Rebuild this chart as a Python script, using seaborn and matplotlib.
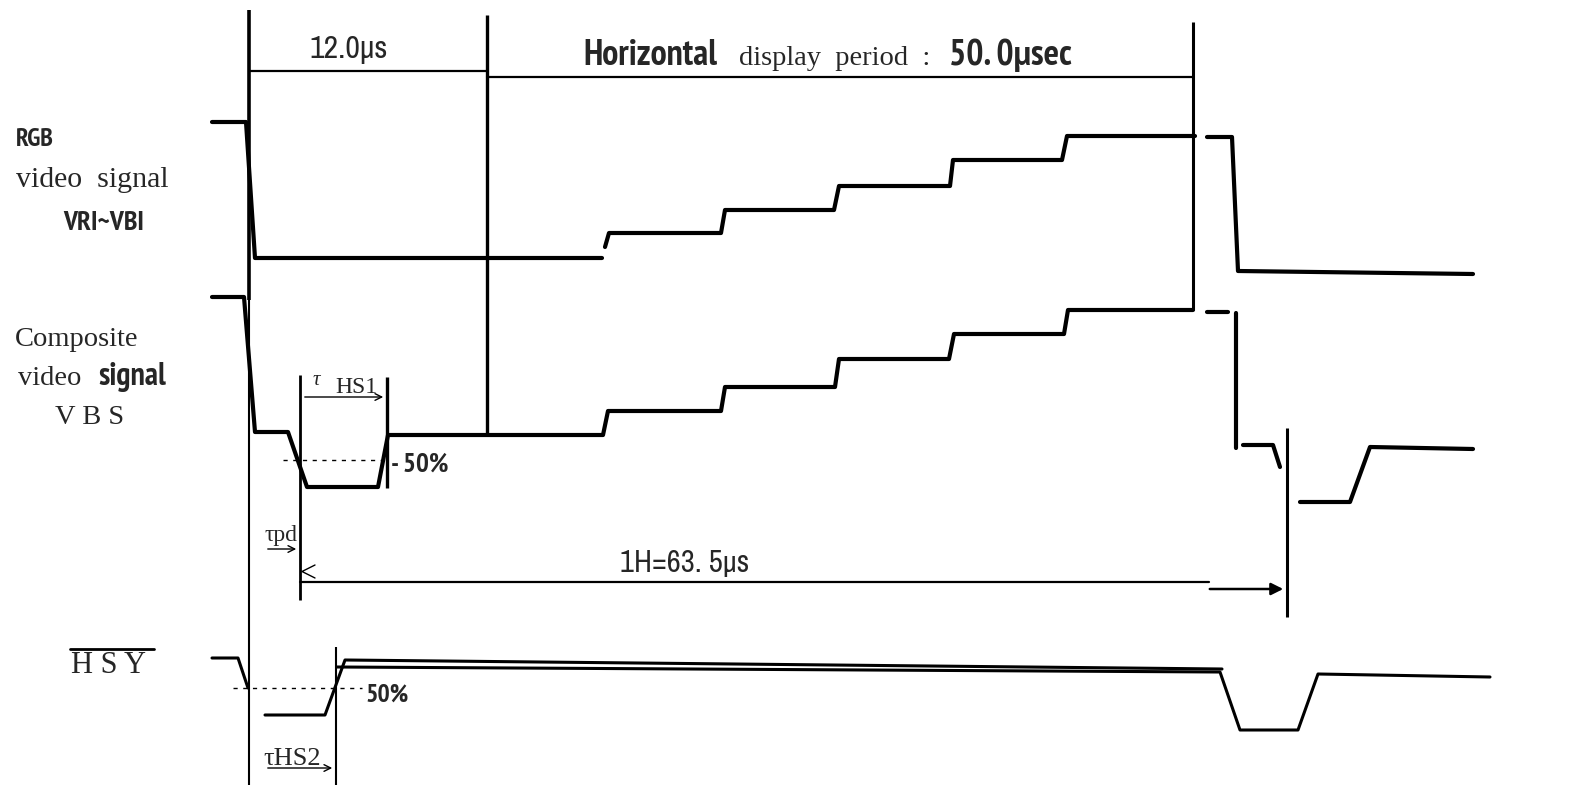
import os
import matplotlib
matplotlib.use('Agg')
import matplotlib.pyplot as plt
from matplotlib import font_manager
from matplotlib.font_manager import FontProperties
import seaborn as sns
import pandas as pd

# waveform vertices (x = time position, y = level, drawn downwards)
rgb_head_x = [212, 246, 255, 602]
rgb_head_y = [122, 122, 258, 258]
rgb_steps_x = [605, 609, 721, 725, 834, 839, 950, 953, 1062, 1067, 1195]
rgb_steps_y = [247, 233, 233, 210, 210, 186, 186, 160, 160, 136, 136]
rgb_tail_x = [1207, 1232, 1238, 1473]
rgb_tail_y = [137, 137, 271, 274]

vbs_head_x = [212, 244, 255, 288, 307, 378, 388, 603, 608, 721, 725, 835, 839, 949, 954, 1064, 1068, 1193]
vbs_head_y = [297, 297, 432, 432, 487, 487, 435, 435, 411, 411, 387, 387, 359, 359, 334, 334, 310, 310]
vbs_dash_x = [1207, 1228]
vbs_dash_y = [312, 312]
vbs_drop_x = [1236, 1236]
vbs_drop_y = [313, 448]
vbs_sync_x = [1243, 1273, 1280]
vbs_sync_y = [445, 445, 467]
vbs_tail_x = [1300, 1350, 1370, 1473]
vbs_tail_y = [502, 502, 447, 449]

hsy_head_x = [212, 238, 248]
hsy_head_y = [658, 658, 688]
hsy_low_x = [265, 325, 345, 1222]
hsy_low_y = [715, 715, 660, 669]
hsy_tail_x = [337, 1220, 1240, 1298, 1318, 1490]
hsy_tail_y = [667, 672, 730, 730, 674, 677]

# timing reference lines
guide_x = [249, 249, 487, 1193, 300, 387, 1287, 336]
guide_y0 = [10, 300, 15, 22, 375, 377, 428, 647]
guide_y1 = [300, 785, 435, 310, 600, 488, 617, 785]
guide_w = [2.6, 1.5, 2.4, 2.2, 2.0, 2.4, 2.2, 1.5]

dim_y = [71, 77, 582]
dim_x0 = [249, 487, 300]
dim_x1 = [487, 1193, 1209]

half_y = [460, 688]          # 50 % levels
half_x0 = [283, 233]
half_x1 = [385, 362]


def segs(pieces):
    rows = []
    for i, (xs, ys) in enumerate(pieces):
        for x, y in zip(xs, ys):
            rows.append({'seg': i, 'x': x, 'y': y})
    return pd.DataFrame(rows)


def pick_file(patterns):
    files = [f.fname for f in font_manager.fontManager.ttflist]
    for pat in patterns:
        for fn in files:
            base = os.path.basename(fn).lower().replace('-', '').replace('_', '')
            if all(p in base for p in pat) and 'mono' not in base and 'serif' not in base \
                    and 'italic' not in base and 'cjk' not in base:
                if 'bold' not in pat and 'bold' in base:
                    continue
                if 'extra' not in pat and ('extra' in base or 'ultra' in base):
                    continue
                if 'semi' not in pat and 'semi' in base:
                    continue
                if 'bold' in pat and ('extrabold' in base or 'semibold' in base):
                    continue
                return fn
    return None


bold_file = pick_file([('semicondensed', 'bold'), ('narrow', 'bold'), ('condensed', 'bold')])
reg_file = pick_file([('semicondensed',), ('narrow',), ('condensed',)])


def nb(size):
    if bold_file:
        return dict(fontproperties=FontProperties(fname=bold_file, size=size))
    return dict(family=['Liberation Sans', 'DejaVu Sans'], weight='bold', fontsize=size * 0.82)


def nr(size):
    if reg_file:
        return dict(fontproperties=FontProperties(fname=reg_file, size=size))
    return dict(family=['Liberation Sans', 'DejaVu Sans'], fontsize=size * 0.82)


sns.set_style('white')
SERIF = ['Liberation Serif', 'DejaVu Serif']

fig = plt.figure(figsize=(15.95, 7.88), dpi=100)
ax = fig.add_axes([0, 0, 1, 1])

video = segs([(rgb_head_x, rgb_head_y), (rgb_steps_x, rgb_steps_y), (rgb_tail_x, rgb_tail_y),
              (vbs_head_x, vbs_head_y), (vbs_dash_x, vbs_dash_y), (vbs_drop_x, vbs_drop_y),
              (vbs_sync_x, vbs_sync_y), (vbs_tail_x, vbs_tail_y)])
sns.lineplot(data=video, x='x', y='y', units='seg', estimator=None, sort=False,
             color='black', lw=3.0, legend=False, ax=ax)
sync = segs([(hsy_head_x, hsy_head_y), (hsy_low_x, hsy_low_y), (hsy_tail_x, hsy_tail_y)])
sns.lineplot(data=sync, x='x', y='y', units='seg', estimator=None, sort=False,
             color='black', lw=2.2, legend=False, ax=ax)

for x, a, b, w in zip(guide_x, guide_y0, guide_y1, guide_w):
    ax.plot([x, x], [a, b], color='black', lw=w, solid_capstyle='butt')
for y, a, b in zip(dim_y, dim_x0, dim_x1):
    ax.plot([a, b], [y, y], color='black', lw=1.6)
for y, a, b in zip(half_y, half_x0, half_x1):
    ax.plot([a, b], [y, y], color='black', lw=1.0, ls=(0, (3, 4)))

# arrows
arr = dict(arrowstyle='->', lw=1.0, color='black', mutation_scale=12)
ax.annotate('', xy=(386, 397), xytext=(302, 397), arrowprops=arr)
ax.annotate('', xy=(299, 549), xytext=(265, 549), arrowprops=arr)
ax.annotate('', xy=(335, 768), xytext=(265, 768), arrowprops=arr)
ax.annotate('', xy=(1286, 589), xytext=(1207, 589),
            arrowprops=dict(arrowstyle='-|>', lw=1.8, color='black', mutation_scale=18))
ax.plot([315, 302, 315], [565, 571.5, 578], color='black', lw=1.0)

# labels on the left
ax.text(16, 146, 'RGB', **nb(18.5), va='baseline')
ax.text(16, 187, 'video  signal', family=SERIF, fontsize=21.5, va='baseline')
ax.text(63, 230, 'VRI~VBI', **nb(20), va='baseline')
ax.text(15, 346, 'Composite', family=SERIF, fontsize=20.5, va='baseline')
ax.text(18, 385, 'video', family=SERIF, fontsize=20.5, va='baseline')
ax.text(98, 385, 'signal', **nb(23), va='baseline')
ax.text(55, 424, 'V B S', family=SERIF, fontsize=20.5, va='baseline')
ax.text(71, 673, 'H S Y', family=SERIF, fontsize=22, va='baseline')
ax.plot([70, 154], [649, 649], color='black', lw=2.0)

# timing labels
ax.text(349, 58, '12.0μs', **nr(23), va='baseline', ha='center')
ax.text(583, 65, 'Horizontal', **nb(26), va='baseline')
ax.text(739, 65, 'display  period  :', family=SERIF, fontsize=20.5, va='baseline')
ax.text(949, 65, '50. 0μsec', **nb(26), va='baseline')
ax.text(313, 390, 'τ', family=SERIF, fontsize=15, va='bottom', style='italic')
ax.text(335, 393, 'HS1', family=SERIF, fontsize=17, va='baseline')
ax.text(391, 472, '- 50%', **nb(19.5), va='baseline')
ax.text(265, 541, 'τpd', family=SERIF, fontsize=17, va='baseline')
ax.text(620, 572, '1H=63. 5μs', **nr(22), va='baseline')
ax.text(365, 702, '50%', **nb(18.5), va='baseline')
ax.text(263, 765, 'τHS2', family=SERIF, fontsize=19, va='baseline')

ax.set_xlim(0, 1595)
ax.set_ylim(788, 0)
ax.axis('off')
fig.savefig('out.png', dpi=100, facecolor='white')
